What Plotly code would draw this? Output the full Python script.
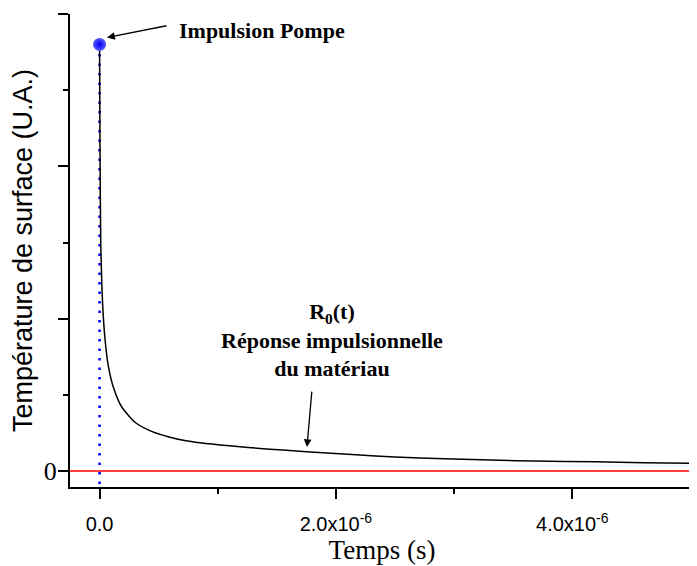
import plotly.graph_objects as go

# ---- data ----
t_us = [0.0, 0.004, 0.010, 0.027, 0.047, 0.074, 0.117, 0.188, 0.30, 0.44, 0.58,
        0.72, 0.85, 1.10, 1.41, 1.75, 2.17, 2.50, 2.92, 3.39, 3.67, 4.20, 4.60, 5.00]
response = [2.80, 2.10, 1.51, 1.08, 0.86, 0.69, 0.55, 0.42, 0.32, 0.26, 0.225,
            0.20, 0.185, 0.165, 0.145, 0.127, 0.107, 0.092, 0.080, 0.070, 0.066,
            0.060, 0.055, 0.051]
t_s = [v * 1e-6 for v in t_us]

pulse_t = [0.0]
pulse_v = [2.80]
pulse_line_t = [0.0, 0.0]
pulse_line_v = [2.80, -0.105]

baseline_t = [-0.25e-6, 5.03e-6]
baseline_v = [0.0, 0.0]

x_range = [-0.25e-6, 5.03e-6]
y_range = [-0.105, 3.0]
x_major = [0.0, 2e-6, 4e-6]
x_major_text = ["0.0", "2.0x10<sup>-6</sup>", "4.0x10<sup>-6</sup>"]
x_minor = [1e-6, 3e-6, 5e-6]
y_major = [0, 1, 2, 3]
y_major_text = ["0", "", "", ""]
y_minor = [0.5, 1.5, 2.5]

SERIF = "Liberation Serif, Times New Roman, serif"
SANS = "Liberation Sans, Arial, sans-serif"

fig = go.Figure()
fig.add_trace(go.Scatter(x=baseline_t, y=baseline_v, mode="lines",
                         line=dict(color="#ff0000", width=1.3), showlegend=False))
fig.add_trace(go.Scatter(x=pulse_line_t, y=pulse_line_v, mode="lines",
                         line=dict(color="#0000ff", width=2.5, dash="2.5px,7px"),
                         showlegend=False))
fig.add_trace(go.Scatter(x=t_s, y=response, mode="lines",
                         line=dict(color="black", width=1.5, shape="spline", smoothing=0.6),
                         showlegend=False))
fig.add_trace(go.Scatter(x=pulse_t, y=pulse_v, mode="markers",
                         marker=dict(size=13, color="#5a5aff",
                                     gradient=dict(type="radial", color="#0000f0"),
                                     line=dict(width=0)),
                         showlegend=False))

# annotations
fig.add_annotation(x=1.375e-6, y=2.892, text="<b>Impulsion Pompe</b>", showarrow=False,
                   font=dict(family=SERIF, size=22, color="black"))
fig.add_annotation(x=0.063e-6, y=2.846, ax=61, ay=-12, text="", showarrow=True,
                   arrowhead=2, arrowsize=1.2, arrowwidth=1.3, arrowcolor="black")
fig.add_annotation(x=1.966e-6, y=0.86,
                   text="<b>R<sub>0</sub>(t)<br>Réponse impulsionnelle<br>du matériau</b>",
                   showarrow=False, font=dict(family=SERIF, size=22, color="black"))
fig.add_annotation(x=1.755e-6, y=0.157, ax=5, ay=-57, text="", showarrow=True,
                   arrowhead=2, arrowsize=1.2, arrowwidth=1.3, arrowcolor="black")

# page body has an 8px margin, so the figure is 8px smaller than the window
fig.update_layout(
    width=689, height=558,
    margin=dict(l=62, r=3, t=6, b=79),
    paper_bgcolor="white", plot_bgcolor="white",
    xaxis=dict(range=x_range, showgrid=False, zeroline=False, automargin=False,
               showline=True, linecolor="black", linewidth=2,
               tickmode="array", tickvals=x_major, ticktext=x_major_text,
               ticks="outside", ticklen=10, tickwidth=2, tickcolor="black",
               ticklabelstandoff=8,
               tickfont=dict(family=SANS, size=20, color="black"),
               minor=dict(tickmode="array", tickvals=x_minor, ticks="outside",
                          ticklen=5, tickwidth=2, tickcolor="black"),
               title=dict(text="Temps (s)", font=dict(family=SERIF, size=27, color="black"),
                          standoff=5)),
    yaxis=dict(range=y_range, showgrid=False, zeroline=False, automargin=False,
               showline=True, linecolor="black", linewidth=2,
               tickmode="array", tickvals=y_major, ticktext=y_major_text,
               ticks="outside", ticklen=10, tickwidth=2, tickcolor="black",
               ticklabelstandoff=-4,
               tickfont=dict(family=SERIF, size=26, color="black"),
               minor=dict(tickmode="array", tickvals=y_minor, ticks="outside",
                          ticklen=5, tickwidth=2, tickcolor="black"),
               title=dict(text="Température de surface (U.A.)",
                          font=dict(family=SANS, size=27, color="black"), standoff=8)),
)

fig.write_html("out.html")
